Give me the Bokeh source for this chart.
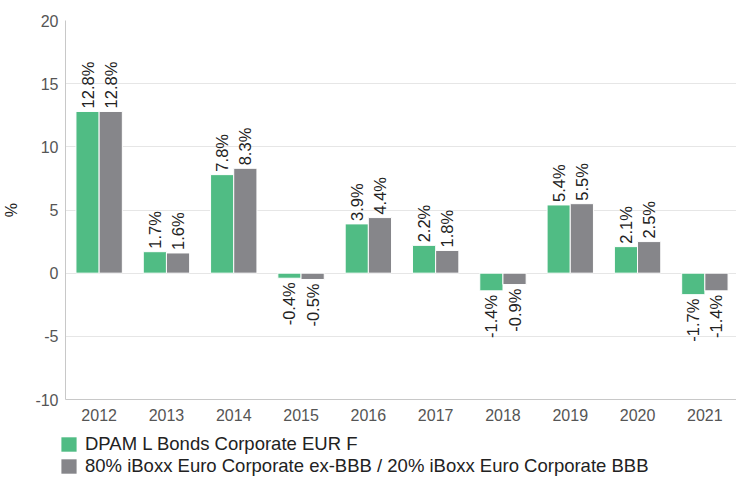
import numpy as np
from bokeh.plotting import figure
from bokeh.layouts import column
from bokeh.models import ColumnDataSource, FixedTicker, Legend, LegendItem, Range1d
from bokeh.core.properties import value
from bokeh.embed import file_html
from bokeh.resources import INLINE

years = ["2012", "2013", "2014", "2015", "2016", "2017", "2018", "2019", "2020", "2021"]
fund = [12.8, 1.7, 7.8, -0.4, 3.9, 2.2, -1.4, 5.4, 2.1, -1.7]
bench = [12.8, 1.6, 8.3, -0.5, 4.4, 1.8, -0.9, 5.5, 2.5, -1.4]
fund_name = "DPAM L Bonds Corporate EUR F"
bench_name = "80% iBoxx Euro Corporate ex-BBB / 20% iBoxx Euro Corporate BBB"
y_ticks = [-10, -5, 0, 5, 10, 15, 20]

GREEN = "#50BC84"
GRAY = "#86868A"
FONT = "Liberation Sans"

p = figure(width=736, height=429, output_backend="svg", toolbar_location=None,
           x_range=Range1d(-0.5, 9.47), y_range=Range1d(-10, 20),
           min_border_left=59, min_border_right=0, min_border_top=20, min_border_bottom=30)
p.outline_line_color = None
p.background_fill_color = "white"

idx = np.arange(len(years))
off = 0.172
w = 0.345

def labels(vals):
    return [f"{v:.1f}%" for v in vals]

src_f = ColumnDataSource(dict(x=idx - off, top=fund, lab=labels(fund),
                              align=["left" if v >= 0 else "right" for v in fund],
                              yo=[-3 if v >= 0 else 4 for v in fund]))
src_b = ColumnDataSource(dict(x=idx + off, top=bench, lab=labels(bench),
                              align=["left" if v >= 0 else "right" for v in bench],
                              yo=[-3 if v >= 0 else 4 for v in bench]))

p.vbar(x="x", top="top", bottom=0, width=w, source=src_f, fill_color=GREEN, line_color="white", line_width=1)
p.vbar(x="x", top="top", bottom=0, width=w, source=src_b, fill_color=GRAY, line_color="white", line_width=1)

for s in (src_f, src_b):
    p.text(x="x", y="top", text="lab", source=s, angle=np.pi / 2, text_align="align",
           text_baseline="middle", y_offset="yo", text_font=value(FONT),
           text_font_size="16.5px", text_color="#222222")

# axes
p.xaxis.ticker = FixedTicker(ticks=list(idx))
p.xaxis.major_label_overrides = {int(i): y for i, y in zip(idx, years)}
p.yaxis.ticker = FixedTicker(ticks=y_ticks)
p.yaxis.major_label_overrides = {t: str(t) for t in y_ticks}
for ax in (p.xaxis, p.yaxis):
    ax.major_tick_line_color = None
    ax.minor_tick_line_color = None
    ax.major_tick_out = 0
    ax.major_tick_in = 0
    ax.minor_tick_out = 0
    ax.axis_line_color = "#C8C8C8"
    ax.major_label_text_font = FONT
    ax.major_label_text_font_size = "16px"
    ax.major_label_text_color = "#555555"
p.xaxis.major_label_standoff = 9
p.yaxis.major_label_standoff = 7
p.yaxis.axis_label = "%"
p.yaxis.axis_label_text_font = FONT
p.yaxis.axis_label_text_font_size = "16px"
p.yaxis.axis_label_text_font_style = "normal"
p.yaxis.axis_label_text_color = "#222222"
p.yaxis.axis_label_standoff = 12
p.xgrid.grid_line_color = None
p.ygrid.grid_line_color = "#E6E6E6"
p.ygrid.ticker = FixedTicker(ticks=y_ticks)

# legend in a separate strip below the chart (hidden copies of the series supply the swatches)
lf = figure(width=736, height=48, output_backend="svg", toolbar_location=None,
            x_range=Range1d(0, 1), y_range=Range1d(0, 1),
            x_axis_location=None, y_axis_location=None,
            min_border_left=0, min_border_right=0, min_border_top=0, min_border_bottom=0)
lf.grid.visible = False
lf.outline_line_color = None
lrf = lf.vbar(x="x", top="top", bottom=0, width=w, source=src_f, fill_color=GREEN, line_color=None, visible=False)
lrb = lf.vbar(x="x", top="top", bottom=0, width=w, source=src_b, fill_color=GRAY, line_color=None, visible=False)

legend = Legend(items=[LegendItem(label=fund_name, renderers=[lrf]),
                       LegendItem(label=bench_name, renderers=[lrb])],
                location=(59, 0), orientation="vertical")
legend.glyph_width = 19
legend.glyph_height = 18
legend.spacing = 0
legend.padding = 0
legend.margin = 0
legend.label_standoff = 7
legend.label_height = 22
legend.label_text_font = FONT
legend.label_text_font_size = "18.5px"
legend.label_text_color = "#222222"
legend.border_line_color = None
legend.background_fill_alpha = 0
lf.add_layout(legend, "center")

layout = column(p, column(lf, spacing=0), spacing=0)
open("out.html", "w").write(file_html(layout, INLINE))
